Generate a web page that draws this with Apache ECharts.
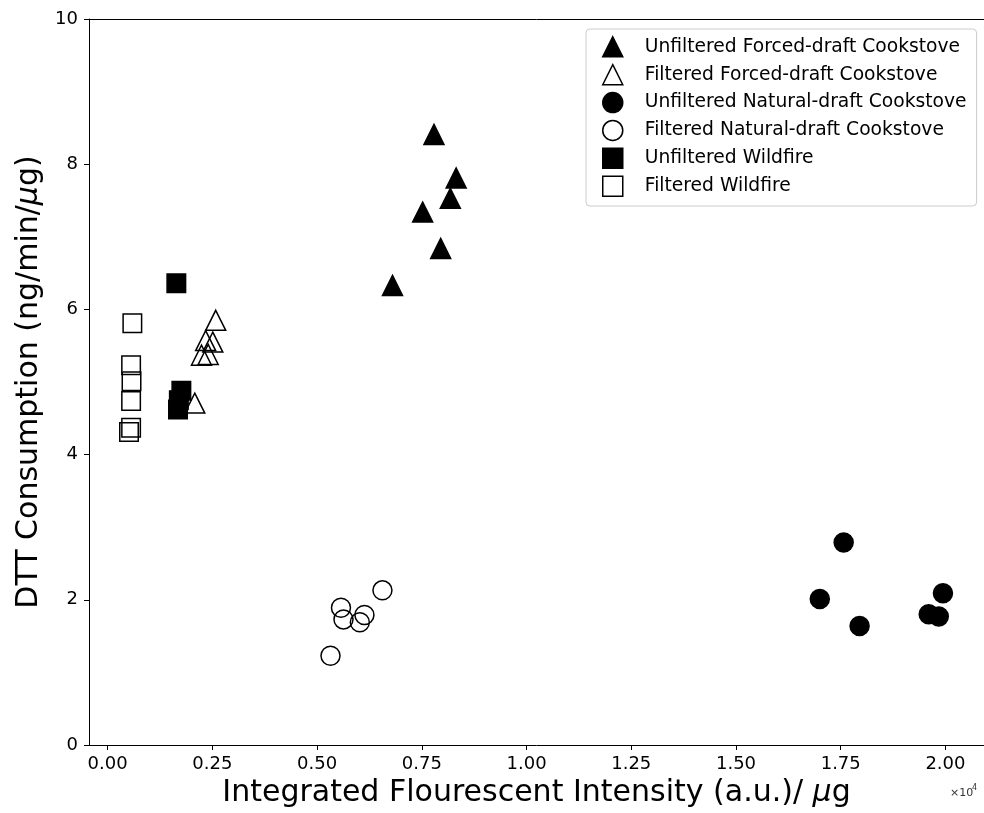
<!DOCTYPE html>
<html>
<head>
<meta charset="utf-8">
<script src="https://cdn.jsdelivr.net/npm/echarts@6/dist/echarts.min.js"></script>
<style>
  html, body { margin: 0; padding: 0; background: #fff; }
  #chart { width: 984px; height: 813px; }
</style>
</head>
<body>
<div id="chart"></div>
<script>
// x values are in units of 10^4 (a.u./µg), y values in ng/min/µg
const unfilteredForcedX = [0.779, 0.832, 0.818, 0.752, 0.795, 0.680];
const unfilteredForcedY = [8.41, 7.81, 7.53, 7.34, 6.84, 6.33];

const filteredForcedX = [0.258, 0.234, 0.251, 0.224, 0.240, 0.208];
const filteredForcedY = [5.85, 5.57, 5.55, 5.37, 5.38, 4.71];

const unfilteredNaturalX = [1.757, 1.700, 1.795, 1.994, 1.960, 1.984];
const unfilteredNaturalY = [2.79, 2.01, 1.64, 2.09, 1.80, 1.77];

const filteredNaturalX = [0.656, 0.557, 0.563, 0.613, 0.602, 0.532];
const filteredNaturalY = [2.13, 1.89, 1.73, 1.79, 1.69, 1.23];

const unfilteredWildfireX = [0.164, 0.176, 0.170, 0.168];
const unfilteredWildfireY = [6.36, 4.88, 4.75, 4.62];

const filteredWildfireX = [0.059, 0.056, 0.057, 0.056, 0.056, 0.051];
const filteredWildfireY = [5.81, 5.23, 5.01, 4.74, 4.37, 4.31];

const xTicks = [0, 0.25, 0.5, 0.75, 1.0, 1.25, 1.5, 1.75, 2.0];

const seriesNames = [
  'Unfiltered Forced-draft Cookstove',
  'Filtered Forced-draft Cookstove',
  'Unfiltered Natural-draft Cookstove',
  'Filtered Natural-draft Cookstove',
  'Unfiltered Wildfire',
  'Filtered Wildfire'
];

const FONT = 'DejaVu Sans';

function pairs(xs, ys) {
  return xs.map((x, i) => [x, ys[i]]);
}

function scatter(name, xs, ys, symbol, size, filled) {
  return {
    name: name,
    type: 'scatter',
    data: pairs(xs, ys),
    symbol: symbol,
    symbolSize: size,
    itemStyle: {
      color: filled ? '#000' : 'rgba(0,0,0,0)',
      borderColor: '#000',
      borderWidth: 1.5,
      opacity: 1
    },
    emphasis: { disabled: true },
    silent: true
  };
}

const chart = echarts.init(document.getElementById('chart'), null, { renderer: 'canvas' });

const xMin = -0.0445, xMax = 2.092;

chart.setOption({
  animation: false,
  backgroundColor: '#fff',
  grid: { left: 89, top: 19, right: -2, bottom: 65, containLabel: false },
  xAxis: [
    {
      type: 'value',
      min: xMin,
      max: xMax,
      position: 'bottom',
      name: 'Integrated Flourescent Intensity (a.u.)/ {i|μ}g',
      nameLocation: 'middle',
      nameGap: 33,
      nameTextStyle: {
        fontFamily: FONT, fontSize: 30, color: '#000',
        rich: { i: { fontFamily: FONT, fontSize: 30, fontStyle: 'italic', color: '#000' } }
      },
      axisLine: { show: true, onZero: false, lineStyle: { color: '#000', width: 1 } },
      axisTick: { show: true, length: 5, customValues: xTicks, lineStyle: { color: '#000', width: 1 } },
      axisLabel: {
        customValues: xTicks,
        formatter: v => v.toFixed(2),
        fontFamily: FONT, fontSize: 18, color: '#000', margin: 10
      },
      splitLine: { show: false }
    },
    {
      type: 'value',
      min: xMin,
      max: xMax,
      position: 'top',
      axisLine: { show: true, onZero: false, lineStyle: { color: '#000', width: 1 } },
      axisTick: { show: false },
      axisLabel: { show: false },
      splitLine: { show: false }
    }
  ],
  yAxis: {
    type: 'value',
    min: 0,
    max: 10,
    interval: 2,
    name: 'DTT Consumption (ng/min/{i|μ}g)',
    nameLocation: 'middle',
    nameGap: 44,
    nameTextStyle: {
      fontFamily: FONT, fontSize: 30, color: '#000',
      rich: { i: { fontFamily: FONT, fontSize: 30, fontStyle: 'italic', color: '#000' } }
    },
    axisLine: { show: true, onZero: false, lineStyle: { color: '#000', width: 1 } },
    axisTick: { show: true, length: 5, lineStyle: { color: '#000', width: 1 } },
    axisLabel: { fontFamily: FONT, fontSize: 18, color: '#000', margin: 11 },
    splitLine: { show: false }
  },
  legend: {
    orient: 'vertical',
    left: 586,
    top: 29,
    padding: [7, 10, 9, 16],
    itemWidth: 20,
    itemHeight: 20,
    itemGap: 6.4,
    data: seriesNames,
    selectedMode: false,
    itemStyle: { borderWidth: 1.5, borderColor: '#000' },
    textStyle: {
      fontFamily: FONT, fontSize: 18.7, color: '#000',
      lineHeight: 20, padding: [0, 0, 0, 17]
    },
    borderColor: '#cccccc',
    borderWidth: 1,
    borderRadius: 4,
    backgroundColor: 'rgba(255,255,255,0.8)'
  },
  graphic: [
    { type: 'text', x: 950, y: 788, style: { text: '×10', font: '11px "DejaVu Sans"', fill: '#333' } },
    { type: 'text', x: 972, y: 784, style: { text: '4', font: '8px "DejaVu Sans"', fill: '#333' } }
  ],
  series: [
    scatter(seriesNames[0], unfilteredForcedX, unfilteredForcedY, 'triangle', 20, true),
    scatter(seriesNames[1], filteredForcedX, filteredForcedY, 'triangle', 20, false),
    scatter(seriesNames[2], unfilteredNaturalX, unfilteredNaturalY, 'circle', 19, true),
    scatter(seriesNames[3], filteredNaturalX, filteredNaturalY, 'circle', 19, false),
    scatter(seriesNames[4], unfilteredWildfireX, unfilteredWildfireY, 'rect', 18.5, true),
    scatter(seriesNames[5], filteredWildfireX, filteredWildfireY, 'rect', 18.5, false)
  ]
});
</script>
</body>
</html>
